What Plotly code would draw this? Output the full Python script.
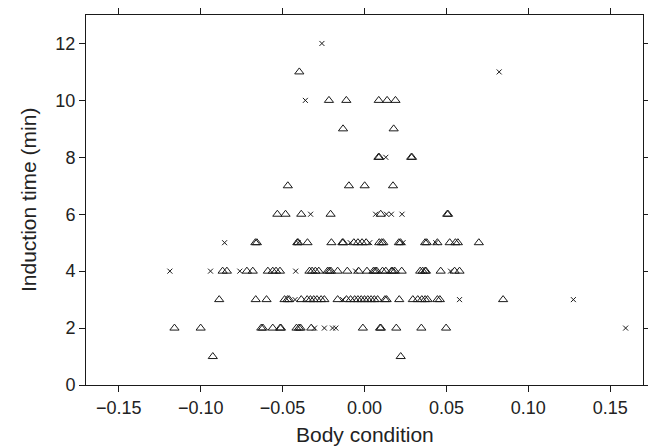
import plotly.graph_objects as go

# Triangles (open) by induction-time row
tri_x = [
    # y = 1
    -0.0926, 0.0221,
    # y = 2
    -0.116, -0.100, -0.063, -0.062, -0.056, -0.0515, -0.051, -0.0415, -0.040, -0.039,
    -0.0325, -0.001, 0.0095, 0.010, 0.0194, 0.0347, 0.0498,
    # y = 3
    -0.0887, -0.0664, -0.0598, -0.0488, -0.047, -0.046, -0.0386, -0.035, -0.033, -0.031,
    -0.029, -0.0265, -0.0245, -0.0164, -0.011, -0.0085, -0.006, -0.004, -0.002, 0.0,
    0.002, 0.004, 0.006, 0.008, 0.0125, 0.0135, 0.0212, 0.0295, 0.0325, 0.035, 0.037,
    0.0385, 0.0445, 0.046, 0.0846,
    # y = 4
    -0.0866, -0.084, -0.0718, -0.0682, -0.059, -0.056, -0.054, -0.0516, -0.0336, -0.032,
    -0.030, -0.0279, -0.0225, -0.0215, -0.0205, -0.0164, -0.0105, -0.0036, 0.0015, 0.0055,
    0.0065, 0.0075, 0.011, 0.013, 0.0165, 0.0172, 0.0185, 0.0227, 0.034, 0.0355, 0.037,
    0.0375, 0.0465, 0.055, 0.058,
    # y = 5
    -0.0666, -0.0657, -0.041, -0.0405, -0.0348, -0.0202, -0.0135, -0.013, -0.0065, -0.004,
    -0.0015, 0.001, 0.009, 0.0105, 0.0115, 0.021, 0.022, 0.037, 0.038, 0.0445, 0.052,
    0.0555, 0.057, 0.0698,
    # y = 6
    -0.0532, -0.0482, -0.0386, -0.0207, 0.0099, 0.0505, 0.051,
    # y = 7
    -0.0468, -0.0095, 0.0001, 0.0174,
    # y = 8
    0.0085, 0.009, 0.0285, 0.029,
    # y = 9
    -0.0131, 0.0178,
    # y = 10
    -0.0217, -0.0111, 0.0087, 0.0138, 0.0189,
    # y = 11
    -0.0398,
]
tri_y = (
    [1] * 2 + [2] * 17 + [3] * 35 + [4] * 35 + [5] * 24 + [6] * 7
    + [7] * 4 + [8] * 4 + [9] * 2 + [10] * 5 + [11] * 1
)

# Crosses by induction-time row
cross_x = [
    # y = 2
    -0.0305, -0.0245, -0.0195, -0.0175, 0.1594,
    # y = 3
    -0.0424, -0.0133, 0.058, 0.1275,
    # y = 4
    -0.1188, -0.094, -0.0761, -0.042, -0.0054, 0.0525,
    # y = 5
    -0.0854, -0.0405, -0.0087, 0.0032, 0.0235, 0.0435,
    # y = 6
    -0.0329, 0.0068, 0.0134, 0.0164, 0.0229,
    # y = 8
    0.013,
    # y = 10
    -0.0361,
    # y = 11
    0.0822,
    # y = 12
    -0.026,
]
cross_y = [2] * 5 + [3] * 4 + [4] * 6 + [5] * 6 + [6] * 5 + [8] * 1 + [10] * 1 + [11] * 1 + [12] * 1

x_ticks = [-0.15, -0.10, -0.05, 0.0, 0.05, 0.10, 0.15]
y_ticks = [0, 2, 4, 6, 8, 10, 12]
x_title = "Body condition"
y_title = "Induction time (min)"

ink = "#1a1a1a"
# The page body has an 8px default margin; size the figure so it fills the window exactly.
W, H = 648, 439
M = dict(l=78, r=13, t=7, b=62)
plot_w = W - M["l"] - M["r"]
plot_h = H - M["t"] - M["b"]

fig = go.Figure()
fig.add_trace(go.Scatter(
    x=tri_x, y=tri_y, mode="markers",
    marker=dict(symbol="triangle-up-open", size=8, color=ink, line=dict(width=1)),
    showlegend=False,
))
fig.add_trace(go.Scatter(
    x=cross_x, y=cross_y, mode="markers",
    marker=dict(symbol="x-thin-open", size=5, color=ink, line=dict(width=1, color=ink)),
    showlegend=False,
))

fig.update_layout(
    width=W, height=H,
    margin=M,
    paper_bgcolor="white", plot_bgcolor="white",
    font=dict(family="Liberation Sans, Arial, sans-serif", size=18, color="#222222"),
    xaxis=dict(
        range=[-0.17, 0.17], tickvals=x_ticks, tickformat=".2f",
        ticks="outside", ticklen=6, tickwidth=1, tickcolor=ink,
        showline=True, linecolor=ink, linewidth=1, mirror="ticks",
        showgrid=False, zeroline=False, automargin=False,
        tickfont=dict(size=18),
    ),
    yaxis=dict(
        range=[0, 13], tickvals=y_ticks,
        ticks="outside", ticklen=6, tickwidth=1, tickcolor=ink,
        showline=True, linecolor=ink, linewidth=1, mirror="ticks",
        showgrid=False, zeroline=False, automargin=False,
        tickfont=dict(size=18),
    ),
    annotations=[
        dict(text=x_title, xref="paper", yref="paper", x=0.5, y=-49 / plot_h,
             xanchor="center", yanchor="middle", showarrow=False,
             font=dict(size=21, color="#222222")),
        dict(text=y_title, xref="paper", yref="paper", x=-58 / plot_w, y=0.5,
             xanchor="center", yanchor="middle", showarrow=False, textangle=-90,
             font=dict(size=21, color="#222222")),
    ],
)

fig.write_html("out.html")
